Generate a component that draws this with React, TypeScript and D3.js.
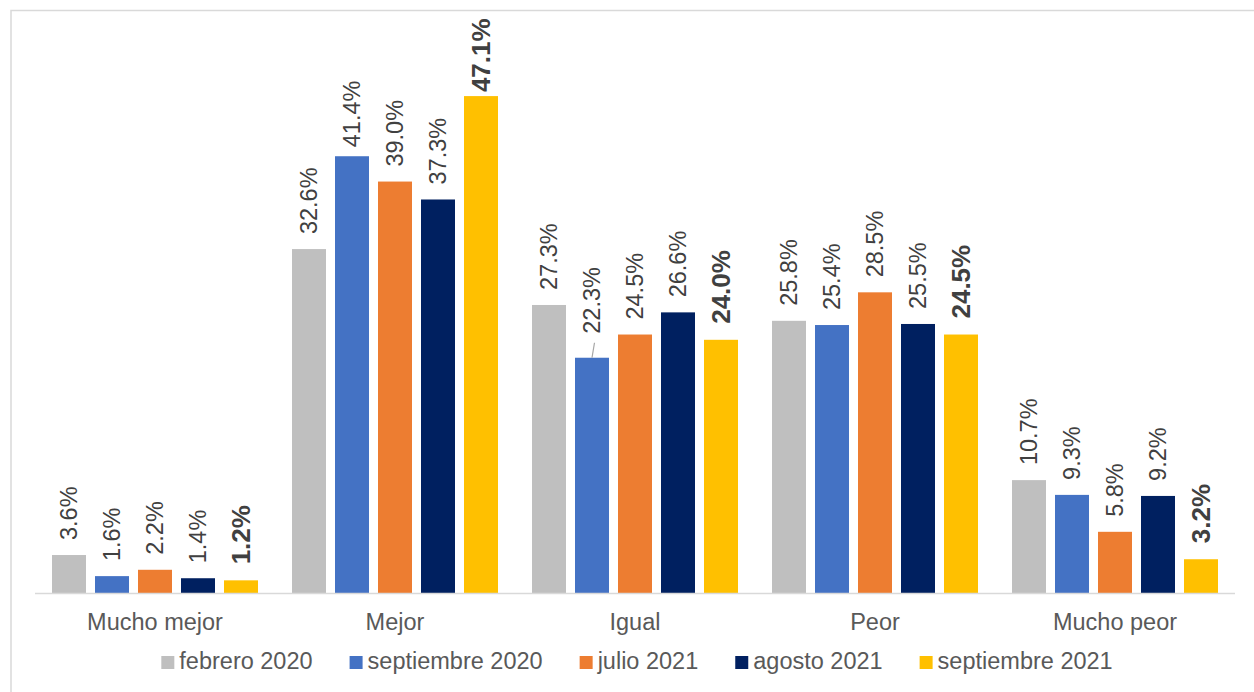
import React from "react";
import * as d3 from "d3";

const categories = ["Mucho mejor", "Mejor", "Igual", "Peor", "Mucho peor"];
const seriesNames = ["febrero 2020", "septiembre 2020", "julio 2021", "agosto 2021", "septiembre 2021"];
const seriesColors = ["#BFBFBF", "#4472C4", "#ED7D31", "#002060", "#FFC000"];
const febrero2020 = [3.6, 32.6, 27.3, 25.8, 10.7];
const septiembre2020 = [1.6, 41.4, 22.3, 25.4, 9.3];
const julio2021 = [2.2, 39.0, 24.5, 28.5, 5.8];
const agosto2021 = [1.4, 37.3, 26.6, 25.5, 9.2];
const septiembre2021 = [1.2, 47.1, 24.0, 24.5, 3.2];
const seriesValues = [febrero2020, septiembre2020, julio2021, agosto2021, septiembre2021];
const boldSeries = [false, false, false, false, true];
// label offset adjustments (category index, series index) -> extra px
const labelNudge: Record<string, number> = { "1-1": -6, "1-4": -12, "2-1": 9 };
const leaderLines = ["2-1"];

const W = 1254;
const H = 692;
const FONT = "'Liberation Sans', Arial, Helvetica, sans-serif";
const FS = 23.5;
const FS_BOLD = 26;

function measure(text: string, weight = "normal") {
  if (typeof document === "undefined") return text.length * FS * 0.5;
  const c = document.createElement("canvas");
  const ctx = c.getContext("2d")!;
  ctx.font = `${weight} ${FS}px ${FONT}`;
  return ctx.measureText(text).width;
}

export default function App() {
  const baseY = 593;
  const y = d3.scaleLinear().domain([0, 50]).range([baseY, 65.5]);
  const x0 = d3.scaleBand<string>().domain(categories).range([35, 1235]);
  const x1 = d3
    .scaleBand<number>()
    .domain(d3.range(seriesNames.length))
    .range([17, 223])
    .paddingInner(9 / 43)
    .paddingOuter(0);

  // legend layout
  const sq = 13;
  const gapText = 5;
  const gapItem = 37;
  const widths = seriesNames.map((s) => measure(s));
  const total = d3.sum(widths) + seriesNames.length * (sq + gapText) + (seriesNames.length - 1) * gapItem;
  let lx = 637 - total / 2;
  const legendItems = seriesNames.map((s, i) => {
    const item = { x: lx, name: s, color: seriesColors[i] };
    lx += sq + gapText + widths[i] + gapItem;
    return item;
  });

  return (
    <svg
      width={W}
      height={H}
      style={{ position: "absolute", left: 0, top: 0, background: "#fff" }}
      fontFamily={FONT}
    >
      <rect x={11} y={10.5} width={W + 20} height={H + 20} fill="none" stroke="#D9D9D9" strokeWidth={1.5} />
      {categories.map((cat, ci) => (
        <g key={cat} transform={`translate(${x0(cat)},0)`}>
          {seriesValues.map((vals, si) => {
            const v = vals[ci];
            const bx = x1(si)!;
            const bw = x1.bandwidth();
            const top = y(v);
            const key = `${ci}-${si}`;
            const bold = boldSeries[si];
            const ly = top - (bold ? 16 : 15) - (labelNudge[key] ?? 0);
            const cx = bx + bw / 2;
            return (
              <g key={si}>
                <rect x={bx} y={top} width={bw} height={baseY - top} fill={seriesColors[si]} />
                {leaderLines.includes(key) && (
                  <line x1={cx} y1={top} x2={cx + 2.5} y2={top - 15} stroke="#A6A6A6" strokeWidth={1.2} />
                )}
                <text
                  transform={`translate(${cx},${ly}) rotate(-90)`}
                  textAnchor="start"
                  dominantBaseline="central"
                  fontSize={bold ? FS_BOLD : FS}
                  fontWeight={bold ? "bold" : "normal"}
                  fill="#404040"
                >
                  {v.toFixed(1)}%
                </text>
              </g>
            );
          })}
          <text x={x0.bandwidth() / 2} y={630} textAnchor="middle" fontSize={FS} fill="#595959">
            {cat}
          </text>
        </g>
      ))}
      <line x1={35} x2={1235} y1={baseY + 0.5} y2={baseY + 0.5} stroke="#D9D9D9" strokeWidth={1.5} />
      {legendItems.map((it) => (
        <g key={it.name}>
          <rect x={it.x} y={656} width={sq} height={sq} fill={it.color} />
          <text x={it.x + sq + gapText} y={669} fontSize={FS} fill="#595959">
            {it.name}
          </text>
        </g>
      ))}
    </svg>
  );
}
